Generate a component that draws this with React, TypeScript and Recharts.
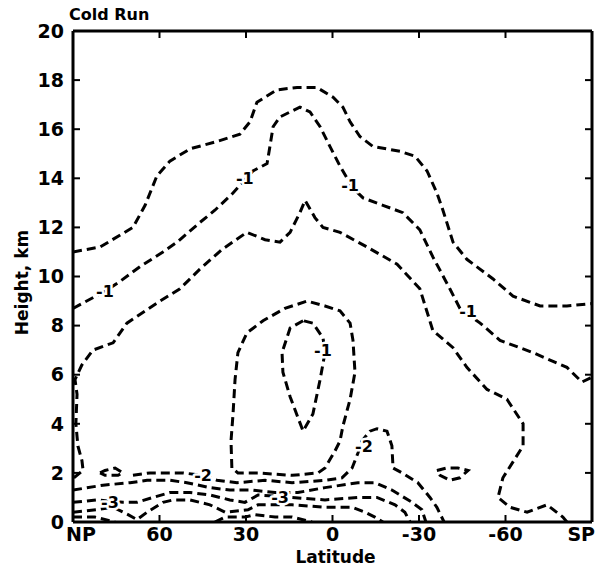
import React from "react";
import { ComposedChart, Line, Scatter, XAxis, YAxis } from "recharts";

// each contour point is [latitude (deg, + = north), height (km)]
type Pt = [number, number];

const latTicks = [90, 60, 30, 0, -30, -60, -90];
const latTickText: Record<number, string> = {
  90: "NP",
  60: "60",
  30: "30",
  0: "0",
  [-30]: "-30",
  [-60]: "-60",
  [-90]: "SP",
};
const heightTicks = [0, 2, 4, 6, 8, 10, 12, 14, 16, 18, 20];

const outerContour: Pt[] = [
  [90, 11.0], [80.6, 11.2], [69.2, 12.0], [65.0, 12.9], [60.9, 14.1], [56.4, 14.7],
  [49.4, 15.2], [40.1, 15.5], [32.1, 15.8], [28.6, 16.3], [26.2, 17.1], [19.3, 17.6],
  [12.3, 17.7], [5.4, 17.7], [-0.2, 17.3], [-3.6, 16.9], [-6.1, 16.3], [-9.5, 15.7],
  [-14.0, 15.3], [-23.4, 15.1], [-28.6, 14.9], [-32.8, 14.3], [-36.2, 13.4], [-38.3, 12.7],
  [-41.8, 11.4], [-46.6, 10.7], [-55.7, 9.9], [-62.6, 9.2], [-72.0, 8.8], [-81.3, 8.8],
  [-90, 8.9],
];

const minusOne: Pt[] = [
  [90, 8.7], [78.9, 9.4], [73.7, 9.8], [66.8, 10.4], [58.8, 11.0], [53.9, 11.4],
  [46.0, 12.2], [40.8, 12.7], [34.5, 13.4], [27.6, 14.3], [22.7, 14.6], [21.7, 15.3],
  [20.6, 16.1], [18.2, 16.5], [11.3, 16.9], [7.8, 16.7], [4.3, 16.1], [0.9, 15.3],
  [-2.6, 14.5], [-7.1, 13.6], [-10.6, 13.2], [-17.5, 12.9], [-24.4, 12.6], [-30.3, 11.9],
  [-34.8, 10.8], [-40.7, 9.5], [-44.2, 8.7], [-51.2, 8.1], [-58.1, 7.4], [-69.5, 6.9],
  [-81.3, 6.3], [-86.5, 5.7], [-90, 5.9],
];

const thirdContour: Pt[] = [
  [89.7, 1.8], [86.5, 2.1], [86.9, 2.5], [88.3, 3.1], [89.0, 4.0], [88.6, 5.2],
  [89.3, 5.8], [86.9, 6.4], [83.1, 7.0], [76.1, 7.3], [71.3, 8.1], [59.8, 9.0],
  [52.9, 9.5], [46.0, 10.3], [38.3, 11.1], [29.7, 11.8], [23.4, 11.5], [18.2, 11.4],
  [14.7, 11.8], [11.3, 12.6], [9.5, 13.1], [6.1, 12.4], [3.3, 12.0], [-2.6, 11.8],
  [-12.0, 11.2], [-22.4, 10.5], [-30.3, 9.5], [-34.8, 7.8], [-41.8, 7.1], [-46.6, 6.3],
  [-53.6, 5.4], [-60.5, 5.0], [-66.1, 4.0], [-66.1, 3.1], [-59.1, 1.8], [-57.4, 1.0],
  [-61.6, 0.6], [-67.5, 0.4], [-74.4, 0.7], [-79.9, 0.2], [-81.3, 0],
];

const centralLoop: Pt[] = [
  [34.9, 2.2], [35.2, 3.3], [34.5, 4.4], [33.8, 5.8], [32.8, 6.9], [29.7, 7.7],
  [24.1, 8.2], [16.5, 8.7], [8.8, 9.0], [2.6, 8.8], [-2.6, 8.6], [-6.1, 8.1],
  [-7.1, 7.4], [-7.8, 6.1], [-6.1, 5.0], [-3.6, 3.9], [-2.6, 3.3], [-0.9, 2.9],
  [2.6, 2.2], [5.0, 2.0], [14.0, 1.9], [25.8, 2.0], [32.8, 2.0], [34.9, 2.2],
];

const innerLoop: Pt[] = [
  [10.2, 8.2], [14.7, 7.9], [17.5, 6.9], [17.2, 6.1], [14.7, 5.1], [10.2, 3.7],
  [6.8, 4.4], [4.3, 5.8], [2.6, 6.9], [3.3, 7.5], [6.8, 8.1], [10.2, 8.2],
];

const minusTwo: Pt[] = [
  [69.2, 1.9], [63.3, 2.0], [59.8, 2.0], [56.4, 2.0], [51.9, 2.0], [44.9, 1.9],
  [40.1, 1.7], [33.1, 1.6], [23.4, 1.7], [14.0, 1.6], [2.6, 1.7], [-3.3, 1.8],
  [-6.8, 2.2], [-8.8, 2.8], [-10.2, 3.3], [-13.0, 3.7], [-15.4, 3.8], [-18.9, 3.7],
  [-20.6, 3.1], [-21.0, 2.2], [-24.1, 2.0], [-29.6, 1.6], [-33.8, 1.0], [-36.2, 0.6],
  [-38.7, 0],
];

const lowA: Pt[] = [
  [90, 1.3], [79.6, 1.5], [70.2, 1.6], [64.3, 1.7], [56.4, 1.7], [50.5, 1.6],
  [42.5, 1.4], [35.6, 1.3], [27.9, 1.3], [19.9, 1.2], [12.0, 1.2], [2.6, 1.4],
  [-8.8, 1.6], [-14.7, 1.6], [-20.6, 1.3], [-27.6, 0.8], [-31.0, 0.5], [-32.4, 0],
];

const minusThree: Pt[] = [
  [90, 0.8], [81.7, 0.9], [72.7, 0.8], [67.8, 0.8], [62.3, 1.0], [56.4, 1.2],
  [49.4, 1.2], [42.5, 1.1], [35.6, 0.9], [30.4, 0.8], [25.8, 1.1], [14.0, 1.0],
  [2.6, 0.9], [-8.8, 1.0], [-15.4, 1.0], [-21.7, 0.7], [-25.1, 0.4], [-26.9, 0],
];

const lowB: Pt[] = [
  [90, 0.4], [81.7, 0.5], [76.1, 0.6], [70.9, 0.3], [67.8, 0.1], [64.3, 0.4],
  [58.8, 0.8], [55.3, 0.9], [49.4, 0.9], [42.5, 0.7], [37.3, 0.4], [29.3, 0.5],
  [25.8, 0.7], [14.0, 0.7], [2.6, 0.6], [-6.8, 0.6], [-11.3, 0.4], [-14.7, 0.2],
  [-17.5, 0],
];

const lowC1: Pt[] = [[90, 0.2], [82.4, 0.2], [75.4, 0]];
const lowC2: Pt[] = [
  [40.8, 0], [37.3, 0.2], [30.4, 0.2], [26.9, 0.3], [19.9, 0.2], [14.0, 0.2], [7.1, 0],
];

const islandNorth: Pt[] = [
  [80.6, 2.0], [78.9, 2.1], [75.4, 2.2], [72.7, 2.0], [74.4, 1.9], [78.9, 1.9], [80.6, 2.0],
];
const islandSouth: Pt[] = [
  [-36.2, 2.1], [-39.7, 2.2], [-43.5, 2.2], [-47.0, 2.1], [-44.2, 1.8], [-40.7, 1.7],
  [-37.3, 1.9], [-36.2, 2.1],
];

const contourLabels: [number, number, string][] = [
  [78.9, 9.4, "-1"],
  [30.4, 14.0, "-1"],
  [-6.1, 13.7, "-1"],
  [-47.0, 8.6, "-1"],
  [3.3, 7.0, "-1"],
  [44.9, 1.9, "-2"],
  [-10.9, 3.1, "-2"],
  [77.2, 0.8, "-3"],
  [18.2, 1.0, "-3"],
];

const allContours = [
  outerContour, minusOne, thirdContour, centralLoop, innerLoop, minusTwo,
  lowA, minusThree, lowB, lowC1, lowC2, islandNorth, islandSouth,
];

const toRows = (pts: Pt[]) => pts.map(([lat, km]) => ({ lat, km }));

const FONT = "'DejaVu Sans', sans-serif";

const XTick = (props: any) => {
  const { x, y, payload } = props;
  const v = payload.value;
  const anchor = v === 90 ? "start" : v === -90 ? "end" : "middle";
  const shift = v === 90 ? -7 : v === -90 ? 3 : 0;
  return (
    <text x={x + shift} y={y} dy="0.71em" textAnchor={anchor} fontSize={19} fontWeight={700} fontFamily={FONT} fill="#000">
      {latTickText[v]}
    </text>
  );
};

const NoTick = () => <g />;
const NoShape = () => <g />;

const LevelTag = (props: any) => {
  const { cx, cy, payload } = props;
  return (
    <g>
      <text x={cx} y={cy} dy="0.36em" textAnchor="middle" fontSize={16} fontWeight={700} fontFamily={FONT}
        fill="#fff" stroke="#fff" strokeWidth={5} strokeLinejoin="round">
        {payload.text}
      </text>
      <text x={cx} y={cy} dy="0.36em" textAnchor="middle" fontSize={16} fontWeight={700} fontFamily={FONT} fill="#000">
        {payload.text}
      </text>
    </g>
  );
};

const HeightTitle = (props: any) => {
  const vb = props.viewBox;
  const x = vb.x + vb.width - 51;
  const y = vb.y + vb.height / 2 + 6;
  return (
    <text x={x} y={y} transform={`rotate(-90, ${x}, ${y})`} textAnchor="middle" dominantBaseline="central"
      fontSize={17} fontWeight={700} fontFamily={FONT} fill="#000">
      Height, km
    </text>
  );
};

const LatTitle = (props: any) => {
  const vb = props.viewBox;
  return (
    <text x={vb.x + vb.width / 2 + 3} y={vb.y + 41} textAnchor="middle" fontSize={17} fontWeight={700} fontFamily={FONT} fill="#000">
      Latitude
    </text>
  );
};

export default function App() {
  const labelRows = contourLabels.map(([lat, km, text]) => ({ lat, km, text }));
  const axisLine = { stroke: "#000", strokeWidth: 3 };
  const tickLine = { stroke: "#000", strokeWidth: 2 };

  return (
    <div style={{ position: "absolute", left: 0, top: 0, width: 601, height: 570, background: "#fff" }}>
      <div
        style={{
          position: "absolute",
          left: 69,
          top: 6,
          fontFamily: FONT,
          fontWeight: 700,
          fontSize: 16,
          lineHeight: "18px",
          color: "#000",
        }}
      >
        Cold Run
      </div>
      <ComposedChart width={601} height={570} margin={{ top: 30, right: 8, bottom: 0, left: 0 }}>
        <XAxis
          dataKey="lat"
          type="number"
          domain={[-90, 90]}
          reversed
          ticks={latTicks}
          interval={0}
          height={48}
          tickSize={-7}
          tickMargin={13}
          axisLine={axisLine}
          tickLine={tickLine}
          tick={<XTick />}
          allowDataOverflow
          label={<LatTitle />}
        />
        <XAxis
          xAxisId="top"
          orientation="top"
          dataKey="lat"
          type="number"
          domain={[-90, 90]}
          reversed
          ticks={latTicks}
          interval={0}
          height={1}
          tickSize={-7}
          tickMargin={0}
          axisLine={axisLine}
          tickLine={tickLine}
          tick={<NoTick />}
          allowDataOverflow
        />
        <YAxis
          type="number"
          domain={[0, 20]}
          ticks={heightTicks}
          interval={0}
          width={73}
          tickSize={-7}
          tickMargin={16}
          axisLine={axisLine}
          tickLine={tickLine}
          tick={{ fill: "#000", fontSize: 19, fontWeight: 700, fontFamily: FONT }}
          allowDataOverflow
          label={<HeightTitle />}
        />
        <YAxis
          yAxisId="right"
          orientation="right"
          type="number"
          domain={[0, 20]}
          ticks={heightTicks}
          interval={0}
          width={1}
          tickSize={-7}
          tickMargin={0}
          axisLine={axisLine}
          tickLine={tickLine}
          tick={<NoTick />}
          allowDataOverflow
        />
        {allContours.map((pts, i) => (
          <Line
            key={i}
            data={toRows(pts)}
            dataKey="km"
            type="linear"
            stroke="#000"
            strokeWidth={3}
            strokeDasharray="9 5"
            dot={false}
            activeDot={false}
            isAnimationActive={false}
          />
        ))}
        <Scatter
          data={labelRows}
          dataKey="km"
          xAxisId="top"
          yAxisId="right"
          shape={<NoShape />}
          isAnimationActive={false}
        />
        <Scatter data={labelRows} dataKey="km" shape={<LevelTag />} isAnimationActive={false} />
      </ComposedChart>
    </div>
  );
}
